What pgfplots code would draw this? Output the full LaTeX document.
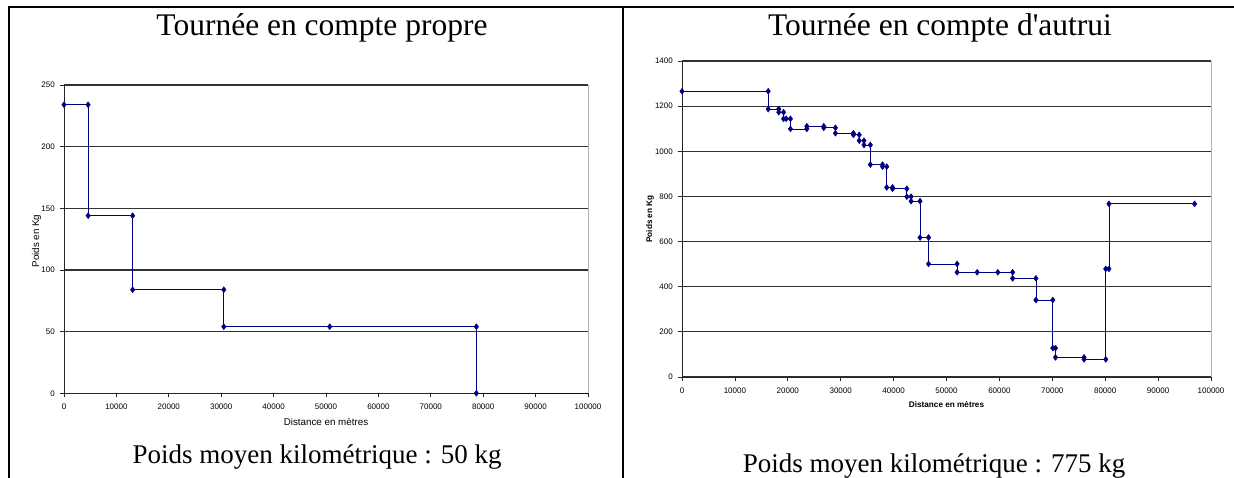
\documentclass[border=0pt]{standalone}
\usepackage{fontspec}
\setmainfont{Liberation Serif}
\setsansfont{Liberation Sans}
\usepackage{pgfplots}
\pgfplotsset{compat=1.18}
\definecolor{xlnavy}{RGB}{0,0,128}

\pgfplotsset{
  excel/.style={
    scale only axis,
    anchor=south west,
    xmin=0, xmax=100000, ymin=0,
    xtick distance=10000,
    axis x line*=bottom, axis y line*=left,
    axis line style={black!85, line width=1pt},
    tick align=outside,
    major tick length=4pt,
    tick style={black!85, line width=0.8pt},
    ymajorgrids,
    grid style={black!80, line width=1.1pt},
    scaled x ticks=false, scaled y ticks=false,
    /pgf/number format/.cd, fixed, precision=0, 1000 sep={}, assume math mode=true, /pgfplots/.cd,
    ticklabel style={font=\sffamily\fontsize{8}{9}\selectfont},
    xticklabel style={anchor=north, inner sep=0pt, yshift=-6.5pt},
    yticklabel style={anchor=east, inner sep=0pt, xshift=-5pt},
    clip=false,
  },
  stepline/.style={xlnavy, line width=0.8pt, mark=diamond*, mark size=3pt,
    mark options={fill=xlnavy, draw=xlnavy, line width=0.4pt}},
}

\begin{document}
\begin{tikzpicture}
\useasboundingbox (0,0) rectangle (1234pt,477pt);
\clip (0,0) rectangle (1234pt,477pt);

% table rules
\draw[line width=2pt] (8pt,470pt) -- (1240pt,470pt);
\draw[line width=2pt] (9pt,471pt) -- (9pt,-2pt);
\draw[line width=2pt] (623pt,471pt) -- (623pt,-2pt);

% Tournee en compte propre
\begin{axis}[excel,
  at={(64pt,83.7pt)}, width=524pt, height=308.3pt,
  ymax=250, ytick distance=50,
  xlabel={Distance en mètres},
  xlabel style={font=\sffamily\fontsize{9.8}{11}\selectfont, at={(axis description cs:0.5,-0.093)}, anchor=center},
  ylabel={Poids en Kg},
  ylabel style={font=\sffamily\fontsize{9.8}{11}\selectfont, at={(axis description cs:-0.0523,0.494)}, anchor=center},
]
\draw[gray!60, line width=1pt] (rel axis cs:1,0) -- (rel axis cs:1,1);
\addplot[xlnavy, line width=0.8pt] coordinates {(78700,0) (100000,0)};
\addplot[stepline] coordinates {
  (0,234) (4600,234) (4600,144) (13100,144) (13100,84) (30500,84)
  (30500,54) (50700,54) (78700,54) (78700,0)
};
\end{axis}

% Tournee en compte d'autrui
\begin{axis}[excel,
  at={(682pt,100pt)}, width=529pt, height=316pt,
  ymax=1400, ytick distance=200,
  xlabel={Distance en mètres},
  xlabel style={font=\sffamily\bfseries\fontsize{8.2}{10}\selectfont, at={(axis description cs:0.5,-0.0886)}, anchor=center},
  ylabel={Poids en Kg},
  ylabel style={font=\sffamily\bfseries\fontsize{8.2}{10}\selectfont, at={(axis description cs:-0.0605,0.5)}, anchor=center},
]
\draw[gray!60, line width=1pt] (rel axis cs:1,0) -- (rel axis cs:1,1);
\addplot[stepline] coordinates {
  (0,1266) (16300,1266) (16300,1187) (18300,1187) (18300,1173)
  (19200,1173) (19200,1144) (19700,1144) (20500,1144) (20500,1099)
  (23600,1099) (23600,1111) (26800,1111) (26800,1104) (29000,1104)
  (29000,1080) (32400,1080) (32400,1073) (33500,1073) (33500,1047)
  (34400,1047) (34400,1028) (35600,1028) (35600,941) (37900,941)
  (37900,932) (38700,932) (38700,840) (39800,840) (39800,834)
  (42500,834) (42500,799) (43300,799) (43300,779) (45000,779)
  (45000,618) (46600,618) (46600,501) (52000,501) (52000,464)
  (55800,464) (59700,464) (62500,464) (62500,437) (66900,437)
  (66900,341) (70100,341) (70100,128) (70600,128) (70600,87)
  (76000,87) (76000,78) (80100,78) (80100,479) (80700,479)
  (80700,767) (96900,767)
};
\end{axis}

\node[anchor=base, font=\fontsize{31.5}{36}\selectfont] at (322pt,441pt) {Tournée en compte propre};
\node[anchor=base, font=\fontsize{31.5}{36}\selectfont] at (940pt,441pt) {Tournée en compte d\textquotesingle autrui};
\node[anchor=base, font=\fontsize{27}{32}\selectfont] at (317pt,14pt) {Poids moyen kilométrique : 50 kg};
\node[anchor=base, font=\fontsize{27}{32}\selectfont] at (934pt,5pt) {Poids moyen kilométrique : 775 kg};
\end{tikzpicture}
\end{document}
